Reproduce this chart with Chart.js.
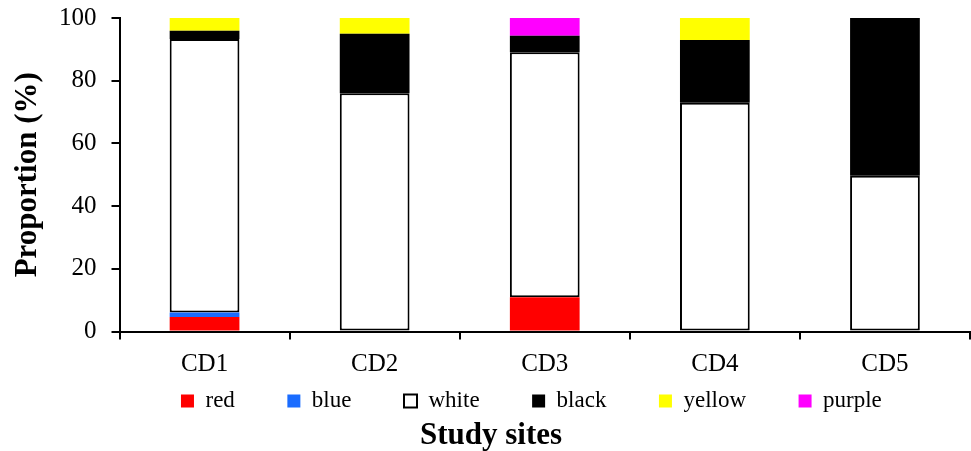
<!DOCTYPE html>
<html>
<head>
<meta charset="utf-8">
<script src="https://cdn.jsdelivr.net/npm/chart.js@4"></script>
<style>
  body { margin: 0; background: #fff; }
  #wrap { width: 971px; height: 451px; }
</style>
</head>
<body>
<div id="wrap"><canvas id="colourChart"></canvas></div>
<script>
// categories and series (proportion %, stacked bottom to top)
const sites = ['CD1', 'CD2', 'CD3', 'CD4', 'CD5'];
const red = [4.6, 0, 10.9, 0, 0];
const blue = [1.5, 0, 0, 0, 0];
const white = [87.2, 76, 78.2, 73, 49.7];
const black = [2.6, 19, 5.2, 20, 50.3];
const yellow = [4.1, 5, 0, 7, 0];
const purple = [0, 0, 5.7, 0, 0];
const yTicks = [0, 20, 40, 60, 80, 100];

const serif = "'Liberation Serif', 'Times New Roman', serif";

function series(label, data, colour) {
  return {
    label: label,
    data: data,
    backgroundColor: colour,
    borderColor: colour,
    borderWidth: 0
  };
}

const whiteSet = series('white', white, '#ffffff');
whiteSet.borderColor = '#000000';
whiteSet.borderWidth = 2;
whiteSet.borderSkipped = false;

const ctx = document.getElementById('colourChart').getContext('2d');
new Chart(ctx, {
  type: 'bar',
  data: {
    labels: sites,
    datasets: [
      series('red', red, '#ff0000'),
      series('blue', blue, '#1a6cff'),
      whiteSet,
      series('black', black, '#000000'),
      series('yellow', yellow, '#ffff00'),
      series('purple', purple, '#ff00ff')
    ]
  },
  options: {
    responsive: true,
    maintainAspectRatio: false,
    animation: false,
    datasets: { bar: { categoryPercentage: 1, barPercentage: 0.41 } },
    layout: { padding: { top: 0, right: 1, bottom: 0, left: 12 } },
    scales: {
      x: {
        stacked: true,
        grid: { display: true, offset: true, drawOnChartArea: false, drawTicks: true, tickLength: 8, color: '#000', lineWidth: 2 },
        border: { display: true, color: '#000', width: 2 },
        ticks: { color: '#000', font: { family: serif, size: 25 }, padding: 10 }
      },
      y: {
        stacked: true,
        min: 0,
        max: 100,
        afterBuildTicks: function(axis) {
          axis.ticks = yTicks.map(function(v) { return { value: v }; });
        },
        // keep the plot top where the original has it
        afterFit: function(scale) {
          scale.paddingTop = 18;
        },
        grid: { display: true, drawOnChartArea: false, drawTicks: true, tickLength: 8, color: '#000', lineWidth: 2 },
        border: { display: true, color: '#000', width: 2 },
        ticks: { color: '#000', font: { family: serif, size: 25 }, padding: 15 },
        title: { display: true, text: 'Proportion (%)', color: '#000', font: { family: serif, size: 31, weight: 'bold', lineHeight: 1 }, padding: { top: 0, bottom: 1 } }
      }
    },
    plugins: {
      legend: {
        position: 'bottom',
        align: 'end',
        labels: {
          color: '#000',
          font: { family: serif, size: 23, lineHeight: 1 },
          boxWidth: 13,
          boxHeight: 13,
          padding: 0,
          // trailing spaces widen each item so the gaps match the original
          generateLabels: function(chart) {
            const items = Chart.defaults.plugins.legend.labels.generateLabels(chart);
            items.forEach(function(item, i) {
              item.text = item.text + (i === items.length - 1 ? '               \u200A' : '        \u2009\u200A');
            });
            return items;
          }
        }
      },
      title: {
        display: true,
        position: 'bottom',
        text: 'Study sites',
        color: '#000',
        font: { family: serif, size: 31, weight: 'bold', lineHeight: 1 },
        padding: { top: -2.5, bottom: 0 }
      },
      tooltip: { enabled: false }
    }
  }
});
</script>
</body>
</html>
